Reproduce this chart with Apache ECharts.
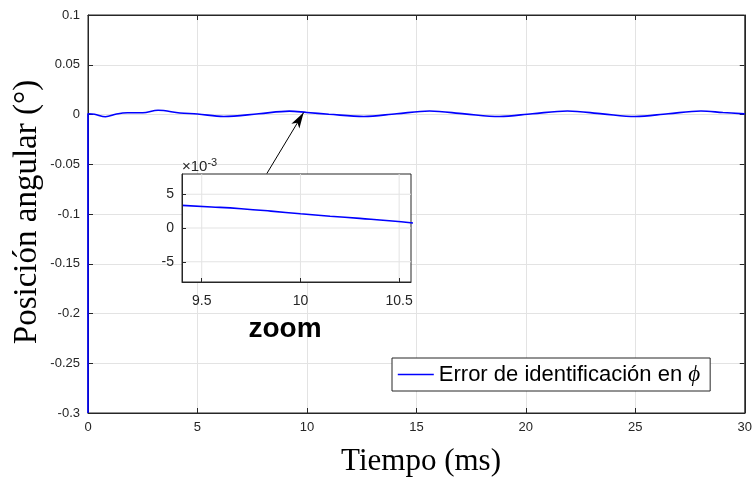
<!DOCTYPE html>
<html><head><meta charset="utf-8">
<script src="https://cdn.jsdelivr.net/npm/echarts@6/dist/echarts.min.js"></script>
<style>html,body{margin:0;padding:0;background:#fff}#c{width:755px;height:481px}</style>
</head><body><div id="c"></div>
<script>
// main series: tiempo (ms), error (°)
const tiempo = [0, 0.0, 0.3, 0.8, 1.3, 1.8, 2.5, 3.2, 4.2, 5.0, 6.2, 7.8, 9.2, 10.0, 11.0, 12.6, 14.1, 15.6, 17.2, 18.8, 20.3, 21.9, 23.5, 25.0, 26.5, 28.0, 29.0, 30.0];
const errorPhi = [-0.3, 0.0007, 0.0002, -0.0022, 0.0005, 0.0018, 0.0018, 0.0042, 0.0015, 0.0005, -0.0020, 0.0007, 0.0034, 0.0020, 0.0003, -0.0020, 0.0008, 0.0035, 0.0006, -0.0020, 0.0008, 0.0035, 0.0006, -0.0020, 0.0008, 0.0035, 0.0020, 0.0006];
// inset (zoom) series, values in units of 1e-3
const tiempoZoom = [9.4, 9.55, 9.7, 9.85, 10.0, 10.15, 10.3, 10.45, 10.57];
const errorZoom = [3.35, 3.12, 2.85, 2.5, 2.1, 1.75, 1.42, 1.08, 0.75];
const xTicks = [0, 5, 10, 15, 20, 25, 30];
const yTicks = [-0.3, -0.25, -0.2, -0.15, -0.1, -0.05, 0, 0.05, 0.1];
const xTicksZoom = [9.5, 10, 10.5];
const yTicksZoom = [-5, 0, 5];
const xRangeZoom = [9.4, 10.56];
const yRangeZoom = [-8, 8];

const mainData = tiempo.map((t, i) => [t, errorPhi[i]]);
const zoomData = tiempoZoom.map((t, i) => [t, errorZoom[i]]);
const axisCol = '#262626';
const gridCol = '#e3e3e3';
const lblFont = {color: axisCol, fontFamily: 'Liberation Sans, Arial', fontSize: 13};

// inset grid lines drawn through the inset axes
const zoomGridSeries = xTicksZoom.map(v => [[v, yRangeZoom[0]], [v, yRangeZoom[1]]])
  .concat(yTicksZoom.map(v => [[xRangeZoom[0], v], [xRangeZoom[1], v]]))
  .map(d => ({type: 'line', xAxisIndex: 2, yAxisIndex: 2, data: d, symbol: 'none', silent: true, z: 6,
              lineStyle: {color: gridCol, width: 1}}));

const chart = echarts.init(document.getElementById('c'));
chart.setOption({
  animation: false,
  backgroundColor: '#fff',
  grid: [
    {left: 88, right: 6, top: 15, bottom: 68, show: true, borderColor: axisCol, borderWidth: 1, backgroundColor: 'transparent'},
    {left: 182, top: 174, width: 229, height: 108, show: true, borderColor: axisCol, borderWidth: 1, backgroundColor: '#fff', z: 5}
  ],
  xAxis: [
    {gridIndex: 0, type: 'value', min: xTicks[0], max: xTicks[xTicks.length-1], interval: 5,
     axisLine: {show: true, onZero: false, lineStyle: {color: axisCol}},
     axisTick: {inside: true, length: 5, lineStyle: {color: axisCol}},
     axisLabel: Object.assign({margin: 8}, lblFont),
     splitLine: {show: true, lineStyle: {color: gridCol}}},
    {gridIndex: 0, type: 'value', position: 'top', min: 0, max: 30, interval: 5,
     axisLine: {show: true, onZero: false, lineStyle: {color: axisCol}},
     axisTick: {inside: true, length: 5, lineStyle: {color: axisCol}},
     axisLabel: {show: false}, splitLine: {show: false}},
    {gridIndex: 1, type: 'value', min: xRangeZoom[0], max: xRangeZoom[1], z: 8,
     axisLine: {show: true, onZero: false, lineStyle: {color: axisCol}},
     axisTick: {inside: true, length: 4, customValues: xTicksZoom, lineStyle: {color: axisCol}},
     axisLabel: {margin: 12, fontSize: 14, color: axisCol, fontFamily: 'Liberation Sans, Arial', customValues: xTicksZoom},
     splitLine: {show: false}}
  ],
  yAxis: [
    {gridIndex: 0, type: 'value', min: yTicks[0], max: yTicks[yTicks.length-1], interval: 0.05,
     axisLine: {show: true, onZero: false, lineStyle: {color: axisCol}},
     axisTick: {inside: true, length: 5, lineStyle: {color: axisCol}},
     axisLabel: Object.assign({margin: 8, formatter: v => String(+v.toFixed(2))}, lblFont),
     splitLine: {show: true, lineStyle: {color: gridCol}}},
    {gridIndex: 0, type: 'value', position: 'right', min: -0.3, max: 0.1, interval: 0.05,
     axisLine: {show: true, onZero: false, lineStyle: {color: axisCol}},
     axisTick: {inside: true, length: 5, lineStyle: {color: axisCol}},
     axisLabel: {show: false}, splitLine: {show: false}},
    {gridIndex: 1, type: 'value', min: yRangeZoom[0], max: yRangeZoom[1], z: 8,
     axisLine: {show: true, onZero: false, lineStyle: {color: axisCol}},
     axisTick: {inside: true, length: 4, customValues: yTicksZoom, lineStyle: {color: axisCol}},
     axisLabel: {margin: 8, fontSize: 14, color: axisCol, fontFamily: 'Liberation Sans, Arial', customValues: yTicksZoom},
     splitLine: {show: false}}
  ],
  legend: {
    left: 392, top: 358, padding: [5, 10, 5, 5],
    backgroundColor: '#fff', borderColor: axisCol, borderWidth: 1,
    itemWidth: 36, itemHeight: 12, itemGap: 5,
    itemStyle: {opacity: 0},
    lineStyle: {width: 1.6},
    data: ['Error de identificación en ϕ'],
    textStyle: {fontFamily: 'Liberation Sans, Arial', fontSize: 22, color: '#000',
      rich: {p: {fontFamily: 'Liberation Serif', fontStyle: 'italic', fontSize: 23, color: '#000'}}},
    formatter: () => 'Error de identificación en {p|ϕ}'
  },
  graphic: [
    {type: 'text', x: 182, y: 157, z: 10, style: {
      text: '×10{s|-3}', font: '15px Liberation Sans', fill: axisCol,
      rich: {s: {fontSize: 11, verticalAlign: 'top', padding: [0,0,9,0], fill: axisCol}}}},
    {type: 'text', x: 285, y: 329, z: 10, style: {
      text: 'zoom', font: 'bold 28px Liberation Sans', fill: '#000', textAlign: 'center', textVerticalAlign: 'middle'}},
    {type: 'text', x: 421, y: 462, z: 10, style: {
      text: 'Tiempo (ms)', font: '31px Liberation Serif', fill: '#000', textAlign: 'center', textVerticalAlign: 'middle'}},
    {type: 'text', x: 27, y: 212, rotation: Math.PI / 2, z: 10, style: {
      text: 'Posición angular (°)', font: '33px Liberation Serif', fill: '#000', textAlign: 'center', textVerticalAlign: 'middle'}}
  ],
  series: [
    {name: 'Error de identificación en ϕ', type: 'line', xAxisIndex: 0, yAxisIndex: 0,
     data: mainData, smooth: 0.35, symbol: 'none', z: 3,
     lineStyle: {color: '#0000ff', width: 1.6}, itemStyle: {color: '#0000ff'},
     markLine: {silent: true, symbol: ['none', 'arrow'], symbolSize: [7, 16], label: {show: false},
       lineStyle: {color: '#000', type: 'solid', width: 1},
       data: [[{coord: [8.17, -0.0593]}, {coord: [9.85, 0.002]}]]}},
    {name: 'zoom', type: 'line', xAxisIndex: 2, yAxisIndex: 2, data: zoomData, smooth: true,
     symbol: 'none', z: 7, lineStyle: {color: '#0000ff', width: 1.6}}
  ].concat(zoomGridSeries)
});
</script></body></html>
